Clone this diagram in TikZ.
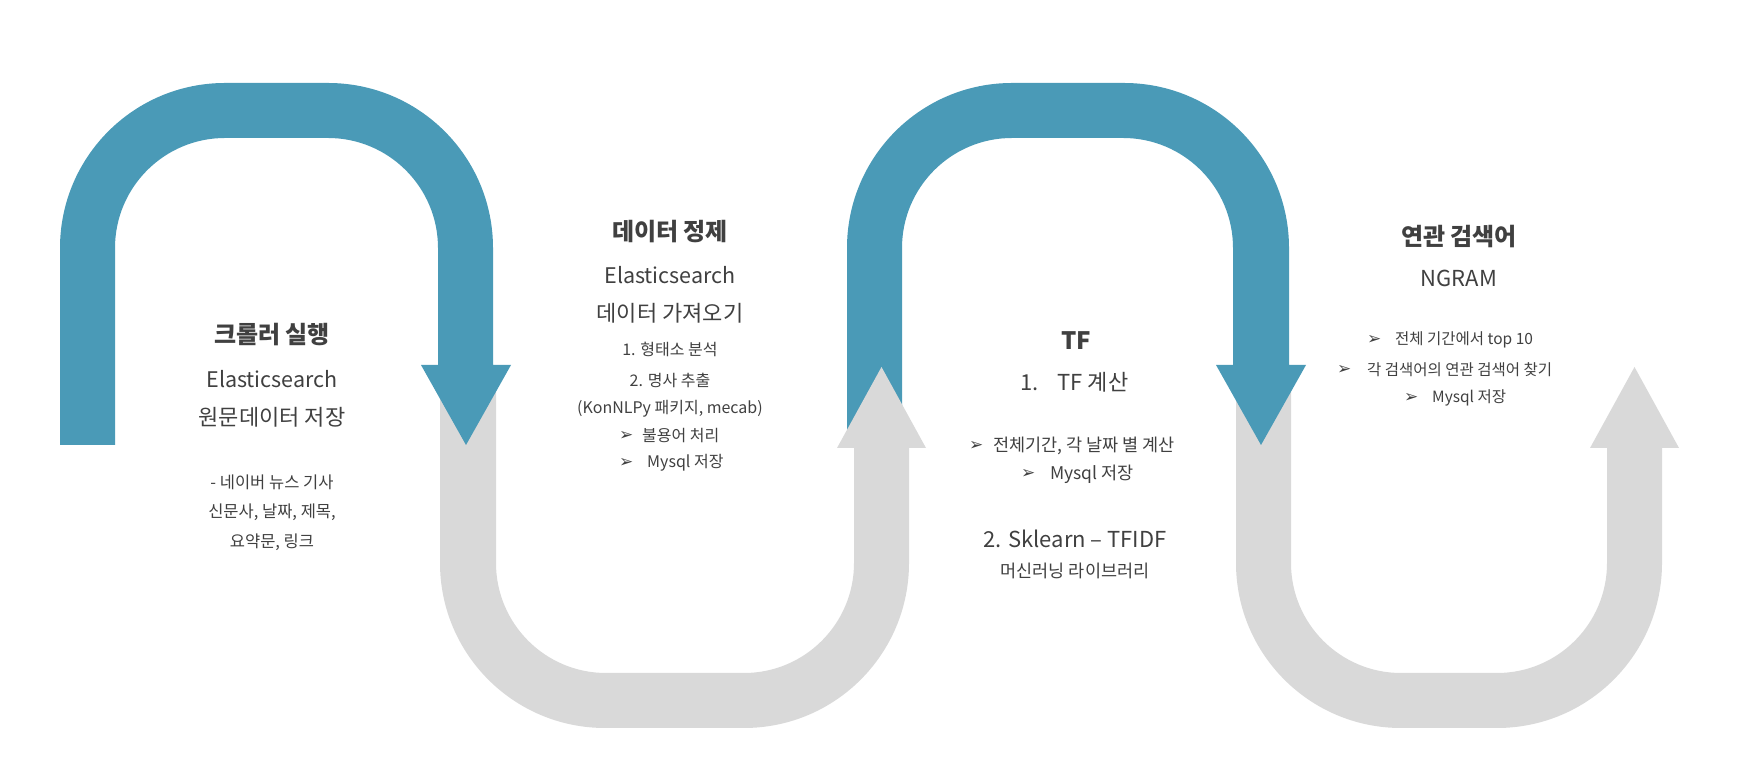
\documentclass[tikz,border=0pt]{standalone}
\usepackage{fontspec}
\setmainfont{Noto Sans CJK KR}
\newfontfamily\dejavu{DejaVu Sans}
\definecolor{arcblue}{RGB}{74,154,183}
\definecolor{arcgray}{RGB}{217,217,217}
\definecolor{txt}{RGB}{64,64,64}
\tikzset{
  bluearc/.style={fill=arcblue, draw=none},
  grayarc/.style={fill=arcgray, draw=none},
  ttl/.style={text=txt, font=\fontsize{24}{28}\selectfont\bfseries, inner sep=0pt},
  mid/.style={text=txt, font=\fontsize{22}{26}\selectfont, inner sep=0pt},
  midE/.style={text=txt, font=\fontsize{21.5}{26}\selectfont, inner sep=0pt},
  smla/.style={text=txt, font=\fontsize{16.5}{19}\selectfont, inner sep=0pt},
  smlb/.style={text=txt, font=\fontsize{16}{19}\selectfont, inner sep=0pt},
  smlc/.style={text=txt, font=\fontsize{17.5}{20}\selectfont, inner sep=0pt},
  smld/.style={text=txt, font=\fontsize{15.5}{18}\selectfont, inner sep=0pt},
  bul/.style={text=txt, font=\dejavu\fontsize{17}{19}\selectfont, inner sep=0pt, anchor=west},
}
\begin{document}
\begin{tikzpicture}[x=1pt,y=1pt]
\useasboundingbox (0,0) rectangle (1747,783);
% gray U 2
\fill[grayarc] (1236,417) -- (1236,220) arc[start angle=180,end angle=270,radius=165pt]
  -- (1497,55) arc[start angle=270,end angle=360,radius=165pt]
  -- (1662,335) -- (1679,335) -- (1634.5,416) -- (1590,335) -- (1607,335)
  -- (1607,220) arc[start angle=0,end angle=-90,radius=110pt]
  -- (1401,110) arc[start angle=270,end angle=180,radius=110pt]
  -- (1291,417) -- cycle;
% blue arch 2
\fill[bluearc] (847,338) -- (847,535) arc[start angle=180,end angle=90,radius=165pt]
  -- (1124,700) arc[start angle=90,end angle=0,radius=165pt]
  -- (1289,418) -- (1306,418) -- (1261,338) -- (1216,418) -- (1233,418)
  -- (1233,535) arc[start angle=0,end angle=90,radius=110pt]
  -- (1012,645) arc[start angle=90,end angle=180,radius=110pt]
  -- (902,338) -- cycle;
% gray U 1
\fill[grayarc] (440,417) -- (440,220) arc[start angle=180,end angle=270,radius=165pt]
  -- (744,55) arc[start angle=270,end angle=360,radius=165pt]
  -- (909,335) -- (926,335) -- (881.5,416) -- (837,335) -- (854,335)
  -- (854,220) arc[start angle=0,end angle=-90,radius=110pt]
  -- (606,110) arc[start angle=270,end angle=180,radius=110pt]
  -- (496,417) -- cycle;
% blue arch 1
\fill[bluearc] (60,338) -- (60,535) arc[start angle=180,end angle=90,radius=165pt]
  -- (328,700) arc[start angle=90,end angle=0,radius=165pt]
  -- (493,418) -- (511,418) -- (466,338) -- (421,418) -- (438,418)
  -- (438,535) arc[start angle=0,end angle=90,radius=110pt]
  -- (225,645) arc[start angle=90,end angle=180,radius=110pt]
  -- (115,338) -- cycle;

% group 1
\node[ttl] (t1a) at (272,448) {크롤러 실행};
\node[midE] (t1b) at (272,404) {Elasticsearch};
\node[mid] (t1c) at (272,366) {원문데이터 저장};
\node[smla] (t1d) at (272,301) {- 네이버 뉴스 기사};
\node[smla] (t1e) at (272,271) {신문사, 날짜, 제목,};
\node[smla] (t1f) at (272,241) {요약문, 링크};

% group 2
\node[ttl] (t2a) at (670,551) {데이터 정제};
\node[midE] (t2b) at (670,508) {Elasticsearch};
\node[mid] (t2c) at (670,470) {데이터 가져오기};
\node[smlb] (t2d) at (670,434) {1. 형태소 분석};
\node[smlb] (t2e) at (670,403) {2. 명사 추출};
\node[smlb] (t2f) at (670,374) {(KonNLPy 패키지, mecab)};
\node[bul] (b2g) at (619,347) {➢};
\node[smlb, anchor=west] (t2g) at (642,347) {불용어 처리};
\node[bul] (b2h) at (619,320) {➢};
\node[smlb, anchor=west] (t2h) at (647,320) {Mysql 저장};

% group 3
\node[ttl] (t3a) at (1076,442) {TF};
\node[mid, anchor=west] (t3b) at (1020,401) {1.\hspace{19pt}TF 계산};
\node[bul] (b3c) at (969,337) {➢};
\node[smlc, anchor=west] (t3c) at (993,337) {전체기간, 각 날짜 별 계산};
\node[bul] (b3d) at (1021,309) {➢};
\node[smlc, anchor=west] (t3d) at (1050,309) {Mysql 저장};
\node[mid] (t3e) at (1075,244) {2. Sklearn – TFIDF};
\node[smlc] (t3f) at (1075,212) {머신러닝 라이브러리};

% group 4
\node[ttl] (t4a) at (1459,546) {연관 검색어};
\node[mid] (t4b) at (1459,505) {NGRAM};
\node[bul] (b4c) at (1367,443) {➢};
\node[smld, anchor=west] (t4c) at (1395,443) {전체 기간에서 top 10};
\node[bul] (b4d) at (1337,413) {➢};
\node[smld, anchor=west] (t4d) at (1367,413) {각 검색어의 연관 검색어 찾기};
\node[bul] (b4e) at (1404,385) {➢};
\node[smld, anchor=west] (t4e) at (1432,385) {Mysql 저장};
\end{tikzpicture}
\end{document}
